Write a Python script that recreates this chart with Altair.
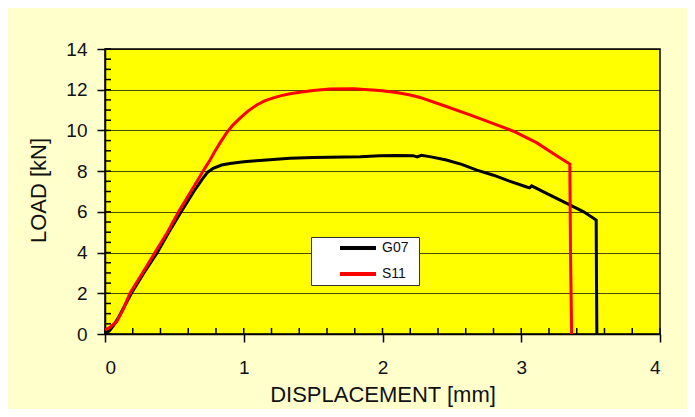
import altair as alt
import pandas as pd

# G07 curve (displacement mm, load kN)
g07_x = [0.0, 0.03, 0.06, 0.1, 0.19, 0.28, 0.377, 0.46, 0.548, 0.64, 0.70, 0.74, 0.78, 0.84, 0.9, 1.0, 1.09,
         1.333, 1.5, 1.84, 1.98, 2.1, 2.22, 2.25, 2.28, 2.35, 2.46, 2.57, 2.68, 2.8, 2.92, 3.04, 3.06, 3.075,
         3.2, 3.35, 3.45, 3.54, 3.542, 3.545]
g07_y = [0.05, 0.15, 0.4, 0.85, 2.0, 3.0, 4.0, 5.0, 6.0, 7.0, 7.6, 7.95, 8.14, 8.3, 8.38, 8.46, 8.51,
         8.63, 8.67, 8.71, 8.76, 8.77, 8.76, 8.70, 8.78, 8.7, 8.55, 8.33, 8.05, 7.8, 7.5, 7.22, 7.18, 7.28,
         6.85, 6.34, 6.0, 5.6, 3.0, 0.0]

# S11 curve
s11_x = [0.0, 0.03, 0.084, 0.13, 0.18, 0.27, 0.36, 0.45, 0.53, 0.61, 0.685, 0.72, 0.757, 0.79, 0.83, 0.876,
         0.92, 0.973, 1.03, 1.093, 1.15, 1.213, 1.27, 1.333, 1.405, 1.5, 1.62, 1.79, 1.98, 2.1, 2.2, 2.27, 2.45,
         2.63, 2.80, 2.955, 3.11, 3.255, 3.35, 3.355, 3.363]
s11_y = [0.2, 0.3, 0.6, 1.2, 2.0, 3.0, 4.0, 5.0, 6.0, 6.9, 7.75, 8.15, 8.55, 8.95, 9.4, 9.88,
         10.25, 10.6, 10.95, 11.25, 11.45, 11.6, 11.71, 11.8, 11.88, 11.96, 12.03, 12.05, 11.96, 11.86, 11.74,
         11.62, 11.2, 10.76, 10.33, 9.93, 9.40, 8.76, 8.35, 4.0, 0.0]

series_names = ["G07", "S11"]
series_colors = ["#000000", "#ff0000"]

x_major = [0, 1, 2, 3, 4]
y_major = [0, 2, 4, 6, 8, 10, 12, 14]
x_minor = [i / 5 for i in range(0, 21)]
y_minor = [i / 2 for i in range(0, 29)]

rows = []
for i, (x, y) in enumerate(zip(g07_x, g07_y)):
    rows.append({"series": "G07", "disp": x, "load": y, "idx": i})
for i, (x, y) in enumerate(zip(s11_x, s11_y)):
    rows.append({"series": "S11", "disp": x, "load": y, "idx": i})
df = pd.DataFrame(rows)

FONT = "Liberation Sans"

xscale = alt.Scale(domain=[0, 4], nice=False, zero=False)
yscale = alt.Scale(domain=[0, 14], nice=False, zero=False)

x_axis = alt.Axis(values=x_major, format="d", tickSize=8, tickWidth=1.5, tickColor="black",
                  domainColor="black", domainWidth=1.5, labelFontSize=19, labelFont=FONT,
                  labelColor="#111", labelPadding=16, grid=False,
                  title="DISPLACEMENT [mm]", titleFont=FONT, titleFontSize=22, titleFontWeight="normal",
                  titleColor="#111", titleY=67, titleBaseline="alphabetic")
y_axis = alt.Axis(values=y_major, format="d", tickSize=8, tickWidth=1.5, tickColor="black",
                  domainColor="black", domainWidth=1.5, labelFontSize=19, labelFont=FONT,
                  labelColor="#111", labelPadding=10, grid=True, gridColor="#000000",
                  gridOpacity=0.7, gridWidth=1.2,
                  title="LOAD [kN]", titleFont=FONT, titleFontSize=22, titleFontWeight="normal",
                  titleColor="#111", titleX=-60, titleY=141, titleAngle=270, titleAlign="center",
                  titleBaseline="alphabetic")

lines = alt.Chart(df).mark_line(strokeWidth=3).encode(
    x=alt.X("disp:Q", scale=xscale, axis=x_axis),
    y=alt.Y("load:Q", scale=yscale, axis=y_axis),
    order="idx:Q",
    color=alt.Color("series:N", scale=alt.Scale(domain=series_names, range=series_colors),
                    legend=alt.Legend(title=" ", titleOrient="right", titlePadding=8, titleFontSize=2,
                                      orient="none", legendX=206, legendY=188,
                                      fillColor="white", strokeColor="#333", padding=3,
                                      clipHeight=16, rowPadding=10,
                                      symbolType="stroke", symbolStrokeWidth=4, symbolSize=1296,
                                      symbolOffset=24, labelFontSize=14,
                                      labelFont=FONT, labelColor="#111", labelOffset=4)),
)

ymin_df = pd.DataFrame({"v": y_minor})
xmin_df = pd.DataFrame({"v": x_minor})

y_minor_ticks = alt.Chart(ymin_df).mark_rule(color="black", strokeWidth=1.5).encode(
    y=alt.Y("v:Q", scale=yscale), x=alt.value(0), x2=alt.value(6))
x_minor_ticks = alt.Chart(xmin_df).mark_rule(color="black", strokeWidth=1.5).encode(
    x=alt.X("v:Q", scale=xscale), y=alt.value(279), y2=alt.value(285))

chart = alt.layer(y_minor_ticks, x_minor_ticks, lines).properties(
    width=555, height=285,
    background="#ffffcc",
    padding={"left": 97, "top": 41, "right": 27, "bottom": 75},
    autosize=alt.AutoSizeParams(type="none"),
).configure_view(fill="#ffff00", stroke="black", strokeWidth=1.5)

chart.save("out.html", embed_options={"renderer": "svg", "actions": False})
